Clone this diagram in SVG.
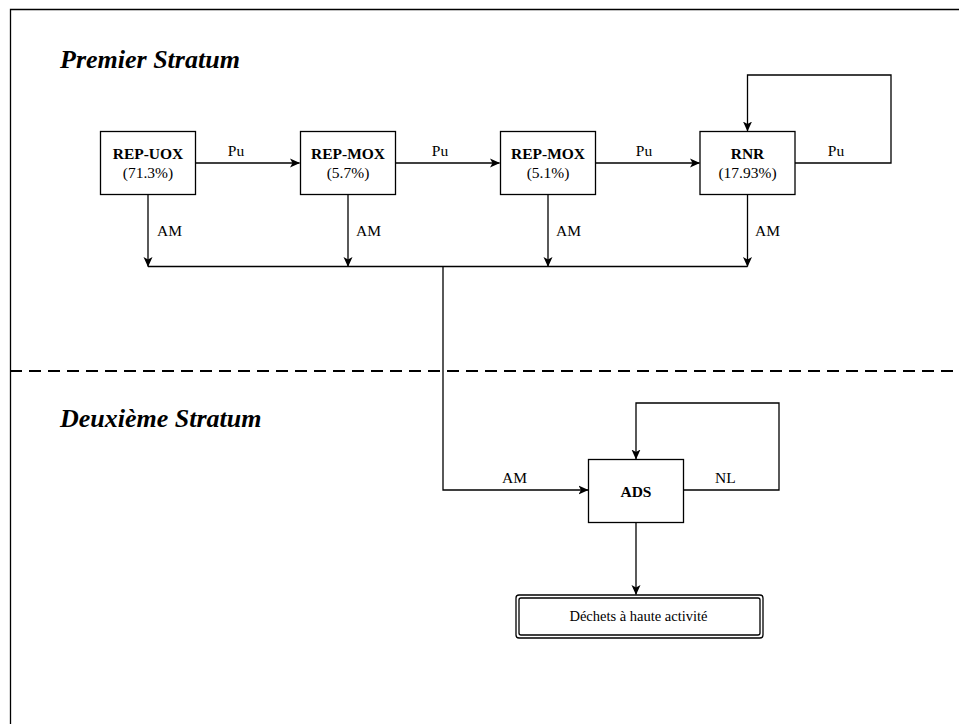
<svg xmlns="http://www.w3.org/2000/svg" width="959" height="724" viewBox="0 0 959 724">
<defs>
<style>
.box{fill:#fff;stroke:#000;stroke-width:1.3}
.ln{fill:none;stroke:#000;stroke-width:1.3}
text{font-family:'Liberation Serif','Tinos','Times New Roman','DejaVu Serif',serif;fill:#000}
.t{font-size:15.5px}
.b{font-weight:bold}
.title{font-size:26px;font-weight:bold;font-style:italic}
</style>
<marker id="ah" viewBox="0 0 10 10" refX="9.5" refY="5" markerWidth="10" markerHeight="10" markerUnits="userSpaceOnUse" orient="auto">
<path d="M0,0.5 L10,5 L0,9.5 L2.5,5 Z" fill="#000"/>
</marker>
</defs>
<rect width="959" height="724" fill="#fff"/>
<g id="frame">
<path d="M10.5,724 V9.5 H959" fill="none" stroke="#000" stroke-width="1.3"/>
<line x1="10" y1="371" x2="959" y2="371" stroke="#000" stroke-width="2" stroke-dasharray="12,7"/>
<text class="title" x="60" y="68">Premier Stratum</text>
<text class="title" x="60" y="427">Deuxième Stratum</text>
</g>
<g id="connectors">
<path class="ln" d="M195.5,163 H299.5" marker-end="url(#ah)"/>
<path class="ln" d="M395.5,163 H499.5" marker-end="url(#ah)"/>
<path class="ln" d="M595.5,163 H699.5" marker-end="url(#ah)"/>
<path class="ln" d="M795,163 H891 V75 H747.5 V131" marker-end="url(#ah)"/>
<path class="ln" d="M148,194.5 V266.5" marker-end="url(#ah)"/>
<path class="ln" d="M348,194.5 V266.5" marker-end="url(#ah)"/>
<path class="ln" d="M548,194.5 V266.5" marker-end="url(#ah)"/>
<path class="ln" d="M747.5,194.5 V266.5" marker-end="url(#ah)"/>
<path class="ln" d="M148,266.5 H747.5"/>
<path class="ln" d="M443,266.5 V490 H588" marker-end="url(#ah)"/>
<path class="ln" d="M683.5,490 H779 V403 H636 V459" marker-end="url(#ah)"/>
<path class="ln" d="M636,522.5 V594.5" marker-end="url(#ah)"/>
<text class="t" x="236" y="156" text-anchor="middle">Pu</text>
<text class="t" x="440" y="156" text-anchor="middle">Pu</text>
<text class="t" x="644" y="156" text-anchor="middle">Pu</text>
<text class="t" x="836" y="156" text-anchor="middle">Pu</text>
<text class="t" x="157" y="236">AM</text>
<text class="t" x="356" y="236">AM</text>
<text class="t" x="556" y="236">AM</text>
<text class="t" x="755" y="236">AM</text>
<text class="t" x="502" y="483">AM</text>
<text class="t" x="715" y="483">NL</text>
</g>
<g id="rep-uox">
<rect class="box" x="100.5" y="131.5" width="95" height="63"/>
<text class="t b" x="148" y="159" text-anchor="middle">REP-UOX</text>
<text class="t" x="148" y="178" text-anchor="middle">(71.3%)</text>
</g>
<g id="rep-mox-1">
<rect class="box" x="300.5" y="131.5" width="95" height="63"/>
<text class="t b" x="348" y="159" text-anchor="middle">REP-MOX</text>
<text class="t" x="348" y="178" text-anchor="middle">(5.7%)</text>
</g>
<g id="rep-mox-2">
<rect class="box" x="500.5" y="131.5" width="95" height="63"/>
<text class="t b" x="548" y="159" text-anchor="middle">REP-MOX</text>
<text class="t" x="548" y="178" text-anchor="middle">(5.1%)</text>
</g>
<g id="rnr">
<rect class="box" x="700" y="131.5" width="95" height="63"/>
<text class="t b" x="747.5" y="159" text-anchor="middle">RNR</text>
<text class="t" x="747.5" y="178" text-anchor="middle">(17.93%)</text>
</g>
<g id="ads">
<rect class="box" x="588.5" y="459.5" width="95" height="63"/>
<text class="t b" x="636" y="497" text-anchor="middle">ADS</text>
</g>
<g id="dechets">
<rect class="box" x="516" y="595" width="247" height="43" rx="3"/>
<rect class="box" x="519" y="598" width="241" height="37" rx="2"/>
<text class="t" x="638.5" y="621" text-anchor="middle" style="font-size:14.5px">Déchets à haute activité</text>
</g>
</svg>
